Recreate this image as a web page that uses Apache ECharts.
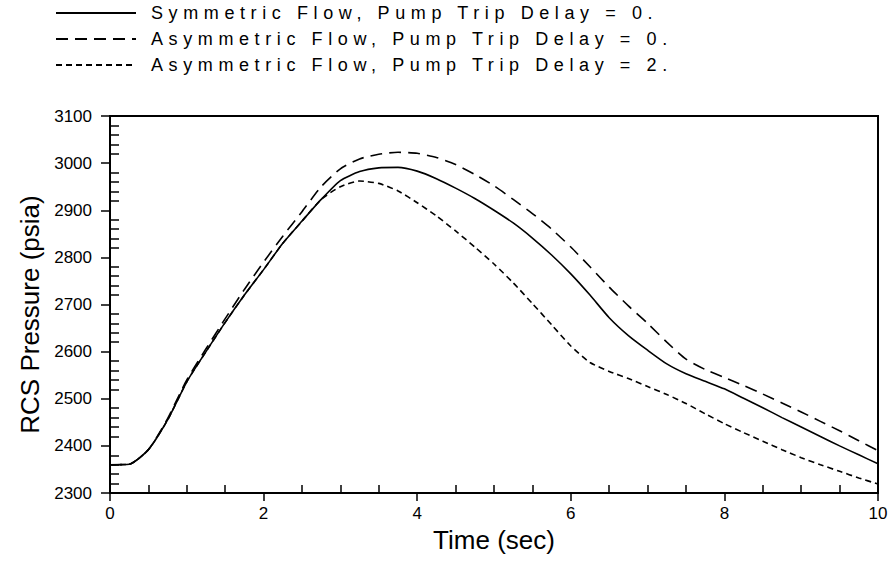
<!DOCTYPE html>
<html>
<head>
<meta charset="utf-8">
<style>
html, body { margin: 0; padding: 0; background: #fff; }
#main { width: 892px; height: 567px; }
</style>
<script src="https://cdn.jsdelivr.net/npm/echarts@6/dist/echarts.min.js"></script>
</head>
<body>
<div id="main"></div>
<script>
const times = [0, 0.25, 0.5, 0.75, 1, 1.25, 1.5, 1.75, 2, 2.25, 2.5, 2.75, 3, 3.25, 3.5, 3.75,
    4, 4.25, 4.5, 4.75, 5, 5.25, 5.5, 5.75, 6, 6.25, 6.5, 6.75, 7, 7.25, 7.5, 7.75,
    8, 8.25, 8.5, 8.75, 9, 9.25, 9.5, 9.75, 10]

// Symmetric Flow, Pump Trip Delay = 0.
const symDelay0 = [2360, 2361, 2392, 2455, 2536, 2600, 2662, 2720, 2774, 2830, 2877, 2923, 2963, 2982, 2990, 2991,
    2983, 2967, 2947, 2925, 2900, 2873, 2841, 2805, 2765, 2720, 2672, 2634, 2603, 2574, 2553, 2537,
    2521, 2501, 2481, 2460, 2440, 2420, 2400, 2381, 2362]

// Asymmetric Flow, Pump Trip Delay = 0.
const asymDelay0 = [2360, 2361, 2392, 2458, 2540, 2606, 2670, 2732, 2790, 2845, 2897, 2950, 2988, 3009, 3019, 3023,
    3021, 3012, 2997, 2976, 2952, 2923, 2893, 2860, 2822, 2780, 2737, 2697, 2660, 2620, 2584, 2562,
    2545, 2528, 2510, 2491, 2472, 2452, 2432, 2411, 2390]

// Asymmetric Flow, Pump Trip Delay = 2.
const asymDelay2 = [2360, 2361, 2392, 2455, 2536, 2600, 2662, 2720, 2774, 2830, 2877, 2923, 2950, 2962, 2957, 2941,
    2916, 2888, 2856, 2822, 2786, 2746, 2702, 2657, 2612, 2577, 2558, 2543, 2526, 2509, 2490, 2468,
    2447, 2428, 2410, 2392, 2375, 2360, 2346, 2332, 2319]

const names = [
    'Symmetric Flow, Pump Trip Delay = 0.',
    'Asymmetric Flow, Pump Trip Delay = 0.',
    'Asymmetric Flow, Pump Trip Delay = 2.',
]

const pairs = (vals) => times.map((t, i) => [t, vals[i]])

const font = '"Liberation Sans", Arial, sans-serif'

const lineSeries = (name, vals, type) => ({
    name: name,
    type: 'line',
    data: pairs(vals),
    showSymbol: false,
    symbol: 'none',
    smooth: 0.2,
    lineStyle: { color: '#000', width: 1.6, type: type },
    itemStyle: { color: '#000' },
})

const chart = echarts.init(document.getElementById('main'), null, { renderer: 'svg' })

const option = {
    animation: false,
    backgroundColor: '#fff',
    textStyle: { fontFamily: font, color: '#000' },
    legend: {
        orient: 'vertical',
        left: 55,
        top: 4,
        padding: 0,
        itemWidth: 80,
        itemHeight: 14,
        itemGap: 8,
        itemStyle: { opacity: 0 },
        textStyle: { fontSize: 18, color: '#000', fontFamily: font, padding: [0, 0, 0, 10] },
        data: names,
    },
    grid: {
        left: 110, right: 14, top: 116, bottom: 74,
        show: true, borderColor: '#000', borderWidth: 2,
    },
    xAxis: [
        {
            type: 'value', min: 0, max: 10, interval: 2,
            name: 'Time (sec)', nameLocation: 'middle', nameGap: 32,
            nameTextStyle: { fontSize: 26, color: '#000' },
            axisLine: { lineStyle: { color: '#000', width: 2 } },
            axisTick: { length: 8, lineStyle: { color: '#000', width: 1.5 } },
            axisLabel: { fontSize: 17, color: '#000', margin: 12 },
            splitLine: { show: false },
        },
        {
            type: 'value', min: 0, max: 10, interval: 2, position: 'bottom',
            axisLine: { show: false },
            axisTick: { show: false, inside: true },
            minorTick: { show: true, splitNumber: 4, length: 8, lineStyle: { color: '#000', width: 1.5 } },
            axisLabel: { show: false },
            splitLine: { show: false },
        },
    ],
    yAxis: [
        {
            type: 'value', min: 2300, max: 3100, interval: 100, position: 'left',
            name: 'RCS Pressure (psia)', nameLocation: 'middle', nameGap: 64,
            nameTextStyle: { fontSize: 26, color: '#000', padding: [0, 20, 0, 0] },
            axisLine: { show: true, lineStyle: { color: '#000', width: 2 } },
            axisTick: { length: 9, lineStyle: { color: '#000', width: 1.5 } },
            axisLabel: { fontSize: 17, color: '#000', margin: 18, formatter: (v) => String(v) },
            splitLine: { show: false },
        },
        {
            type: 'value', min: 2300, max: 3100, interval: 100, position: 'left',
            axisLine: { show: false },
            axisTick: { show: false, inside: true },
            minorTick: { show: true, splitNumber: 5, length: 9, lineStyle: { color: '#000', width: 1.5 } },
            axisLabel: { show: false },
            splitLine: { show: false },
        },
    ],
    series: [
        lineSeries(names[0], symDelay0, 'solid'),
        lineSeries(names[1], asymDelay0, [12, 7]),
        lineSeries(names[2], asymDelay2, [6, 4]),
    ],
}

chart.setOption(option)

// the legend text in the original is widely letter-spaced
document.querySelectorAll('#main text').forEach((el) => {
    if (names.indexOf(el.textContent) >= 0) {
        el.style.letterSpacing = '5.6px'
    }
})
</script>
</body>
</html>
